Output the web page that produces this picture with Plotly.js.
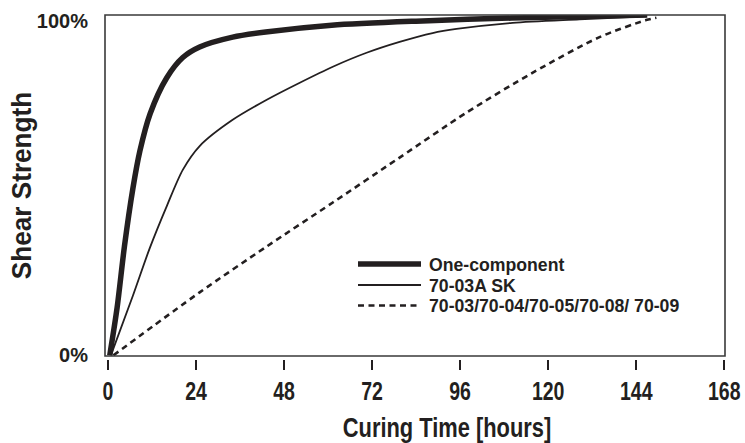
<!DOCTYPE html>
<html>
<head>
<meta charset="utf-8">
<script src="https://cdn.plot.ly/plotly-3.0.1.min.js"></script>
<style>html,body{margin:0;padding:0;background:#fff;}#chart{width:745px;height:443px;}</style>
</head>
<body>
<div id="chart"></div>
<script>
// ---- data ----
var seriesNames = ["One-component", "70-03A SK", "70-03/70-04/70-05/70-08/ 70-09"];

var oneCompHours = [0.5, 2.5, 4.5, 6.8, 8.7, 11.5, 16.0, 20.4, 25.0, 34.0, 43.0, 61.0, 84.0, 110.0, 147.0];
var oneCompStrength = [0, 14, 32, 49, 60, 71, 81.5, 87.5, 90.6, 93.5, 95.0, 97.0, 98.2, 99.1, 100];

var skHours = [0.8, 6.8, 11.4, 16.1, 20.4, 25.0, 34.0, 43.3, 52.3, 61.3, 70.5, 79.5, 88.5, 95.0, 110.3, 128.5, 146.7];
var skStrength = [0, 17.5, 31.5, 44.0, 54.5, 61.5, 69.2, 75.1, 80.1, 84.8, 88.9, 92.1, 94.7, 95.9, 97.7, 98.7, 99.6];

var stdHours = [1.5, 25.0, 43.3, 61.3, 79.5, 97.7, 115.7, 134.0, 146.7, 149.5];
var stdStrength = [0, 18.5, 32.0, 44.9, 58.1, 71.3, 83.0, 93.5, 98.5, 99.2];

var xTickVals = [0, 24, 48, 72, 96, 120, 144, 168];
var yTickVals = [0, 98.2];
var yTickText = ["0%", "100%"];

// ---- styling ----
var FONT = "'Liberation Sans', Arial, sans-serif";
var INK = "#231f20";
var lineStyles = [
  {color: INK, width: 5.5, dash: "solid"},
  {color: INK, width: 1.8, dash: "solid"},
  {color: INK, width: 2.6, dash: "6px,4.5px"}
];

var W = 745, H = 443;
var M = {l: 105, r: 20, t: 15, b: 84};
var plotH = H - M.t - M.b;
var plotW = W - M.l - M.r;
function px2x(px) { return (px - M.l) / plotW; }
function px2y(py) { return (H - M.b - py) / plotH; }

var traces = [
  {x: oneCompHours, y: oneCompStrength},
  {x: skHours, y: skStrength},
  {x: stdHours, y: stdStrength}
].map(function (d, i) {
  return {
    x: d.x, y: d.y, type: "scatter", mode: "lines", name: seriesNames[i],
    line: {color: lineStyles[i].color, width: lineStyles[i].width, dash: lineStyles[i].dash, shape: "spline", smoothing: 0.8},
    showlegend: false, hoverinfo: "skip", cliponaxis: false
  };
});

// manual legend (long line samples as in the reference)
var legRows = [264, 285, 305.5];
var shapes = [{
  type: "rect", xref: "x domain", yref: "y domain", x0: 0, x1: 1, y0: 0, y1: 1,
  line: {color: "#3a3a3a", width: 1.6}, fillcolor: "rgba(0,0,0,0)", layer: "above"
}];
var annotations = [];
seriesNames.forEach(function (name, i) {
  shapes.push({
    type: "line", xref: "paper", yref: "paper",
    x0: px2x(358), x1: px2x(421), y0: px2y(legRows[i]), y1: px2y(legRows[i]),
    line: {color: lineStyles[i].color, width: lineStyles[i].width, dash: lineStyles[i].dash}
  });
  annotations.push({
    xref: "paper", yref: "paper", x: px2x(427), y: px2y(legRows[i]),
    xanchor: "left", yanchor: "middle", align: "left", showarrow: false, text: name,
    font: {family: FONT, size: 19, color: INK, weight: "bold"}
  });
});

var layout = {
  width: W, height: H,
  margin: M,
  paper_bgcolor: "#fff", plot_bgcolor: "#fff",
  font: {family: FONT, color: INK, weight: "bold"},
  xaxis: {
    range: [-0.8, 168.2], tickvals: xTickVals, ticktext: xTickVals.map(String),
    showgrid: false, zeroline: false, showline: false,
    ticks: "outside", ticklen: 10, tickwidth: 2.2, tickcolor: INK,
    anchor: "free", position: 0, ticklabeloverflow: "allow",
    tickfont: {family: FONT, size: 25, color: INK, weight: "bold"},
    title: {text: "Curing Time [hours]", standoff: 14,
            font: {family: FONT, size: 27, color: INK, weight: "bold"}}
  },
  yaxis: {
    range: [-0.2, 100], domain: [3 / plotH, 1],
    tickvals: yTickVals, ticktext: yTickText,
    showgrid: false, zeroline: false, showline: false, ticks: "",
    ticklabelstandoff: 16,
    tickfont: {family: FONT, size: 20, color: INK, weight: "bold"},
    title: {text: "Shear Strength", standoff: 6,
            font: {family: FONT, size: 27, color: INK, weight: "bold"}}
  },
  shapes: shapes,
  annotations: annotations
};

// Condensed look: scale rendered text horizontally about its anchor (text stays real text)
function condense(gd, selector, factor) {
  gd.querySelectorAll(selector).forEach(function (el) {
    var x = parseFloat(el.getAttribute("x")) || 0;
    var y = parseFloat(el.getAttribute("y")) || 0;
    var t = el.getAttribute("transform") || "";
    el.setAttribute("transform", t + " translate(" + x + "," + y + ") scale(" + factor + ",1) translate(" + (-x) + "," + (-y) + ")");
  });
}
function nudge(gd, selector, dx, dy) {
  gd.querySelectorAll(selector).forEach(function (g) {
    g.setAttribute("transform", "translate(" + dx + "," + dy + ")");
  });
}

Plotly.newPlot("chart", traces, layout, {displayModeBar: false, staticPlot: true}).then(function (gd) {
  condense(gd, ".xtick text", 0.78);
  condense(gd, ".xtitle", 0.81);
  condense(gd, ".ytitle", 0.97);
  condense(gd, ".annotation-text", 0.93);
  nudge(gd, ".g-xtitle", 32, 0);
  nudge(gd, ".g-ytitle", 9, 0);
});
</script>
</body>
</html>
